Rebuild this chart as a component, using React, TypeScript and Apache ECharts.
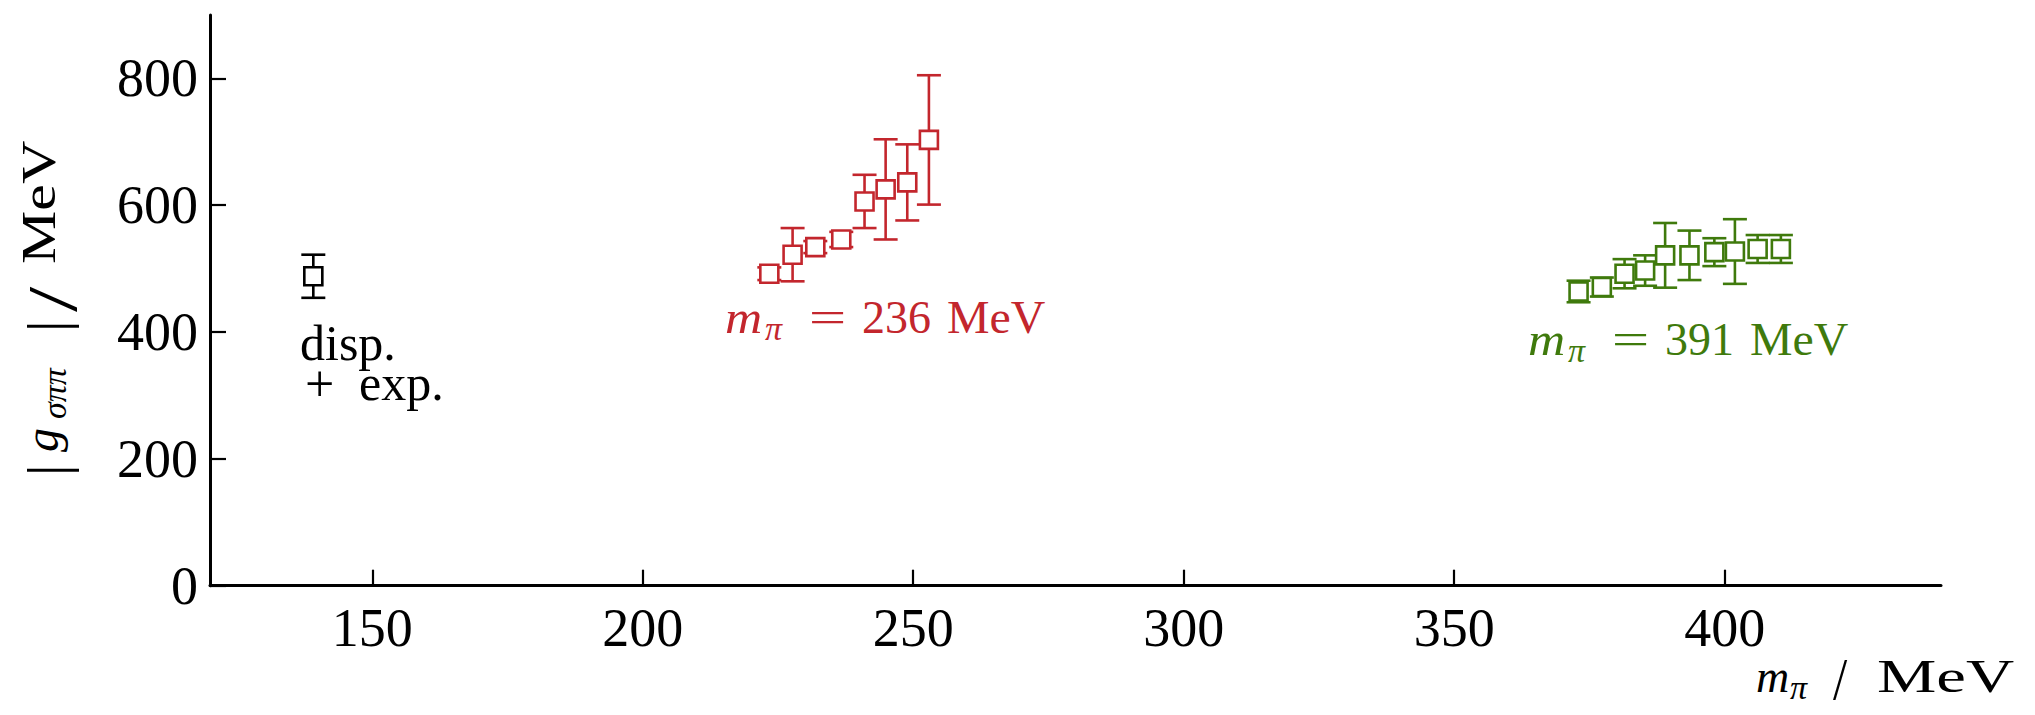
import React, { useEffect, useRef } from "react";
import * as echarts from "echarts";

const X_TICKS = [150, 200, 250, 300, 350, 400];
const Y_TICKS = [0, 200, 400, 600, 800];

const RED_X = [223.4, 227.7, 231.9, 236.7, 241.0, 244.9, 248.9, 252.9];
const RED_Y = [492, 522, 534, 546, 606, 625, 636, 703];
const RED_ERR = [10, 42, 9.5, 12, 42, 79, 60, 102];

const GREEN_X = [373.0, 377.3, 381.5, 385.3, 389.0, 393.5, 398.1, 401.9, 406.1, 410.4];
const GREEN_Y = [464, 471, 492, 497, 521, 521, 526, 527, 531, 531];
const GREEN_ERR = [17, 15, 23, 24, 51, 39, 22, 51, 22, 22];

const DISP_X = [139.1];
const DISP_Y = [488];
const DISP_ERR = [34];

const RED = "#C3262D";
const GREEN = "#3F7A0C";
const FONT = "'Liberation Serif', 'Times New Roman', serif";

function zip(xs: number[], ys: number[], es: number[]) {
  return xs.map((x, i) => [x, ys[i], es[i]]);
}

function errSeries(name: string, data: number[][], color: string) {
  return {
    type: "custom",
    name,
    data,
    clip: false,
    encode: { x: 0, y: 1 },
    renderItem: (_p: any, api: any) => {
      const x = api.value(0);
      const y = api.value(1);
      const e = api.value(2);
      const c = api.coord([x, y]);
      const t = api.coord([x, y + e]);
      const b = api.coord([x, y - e]);
      const half = 12;
      const s = 9;
      const ls = { stroke: color, lineWidth: 2.6, fill: null };
      return {
        type: "group",
        children: [
          { type: "line", shape: { x1: c[0], y1: t[1], x2: c[0], y2: b[1] }, style: ls },
          { type: "line", shape: { x1: c[0] - half, y1: t[1], x2: c[0] + half, y2: t[1] }, style: ls },
          { type: "line", shape: { x1: c[0] - half, y1: b[1], x2: c[0] + half, y2: b[1] }, style: ls },
          {
            type: "rect",
            shape: { x: c[0] - s, y: c[1] - s, width: 2 * s, height: 2 * s },
            style: { fill: "#fff", stroke: color, lineWidth: 2.6 },
          },
        ],
      };
    },
  };
}

type TOpt = { italic?: boolean; color?: string; align?: string; sx?: number; rot?: number; lh?: number };
function txt(x: number, baseline: number, text: string, size: number, o: TOpt = {}) {
  // baseline in screen coords; for rotated text, "baseline" is the screen x of the baseline
  const off = 0.34 * size;
  const rot = o.rot || 0;
  const style: any = {
    text,
    fontSize: size,
    fontFamily: FONT,
    fontStyle: o.italic ? "italic" : "normal",
    fill: o.color || "#000",
    align: o.align || "left",
    verticalAlign: "middle",
  };
  if (o.lh) style.lineHeight = o.lh;
  return {
    type: "text",
    x: rot ? baseline - off : x,
    y: rot ? x : baseline - off,
    rotation: rot,
    scaleX: o.sx || 1,
    silent: true,
    style,
  };
}

function massLabel(x0: number, base: number, value: string, color: string) {
  return [
    txt(x0, base, "m", 46, { italic: true, color, sx: 1.12 }),
    txt(x0 + 40, base + 7, "π", 34, { italic: true, color }),
    txt(x0 + 102.5, base, "=", 46, { color, align: "center", sx: 1.45 }),
    txt(x0 + 137, base, value, 46, { color }),
    txt(x0 + 222, base, "MeV", 46, { color, sx: 1.04 }),
  ];
}

export default function App() {
  const ref = useRef<HTMLDivElement>(null);
  useEffect(() => {
    if (!ref.current) return;
    const chart = echarts.init(ref.current, null, { renderer: "svg" });
    const R = Math.PI / 2;
    const option = {
      animation: false,
      backgroundColor: "#fff",
      grid: { left: 210, right: 94, top: 15, bottom: 129.3, containLabel: false },
      xAxis: {
        type: "value",
        min: 120,
        max: 440,
        splitLine: { show: false },
        axisLine: { show: true, onZero: false, lineStyle: { color: "#000", width: 3 } },
        axisTick: { show: true, inside: true, length: 16, customValues: X_TICKS, lineStyle: { color: "#000", width: 2.2 } },
        axisLabel: { customValues: X_TICKS, margin: 15, fontSize: 54, fontFamily: FONT, color: "#000" },
      },
      yAxis: {
        type: "value",
        min: 0,
        max: 900,
        splitLine: { show: false },
        axisLine: { show: true, onZero: false, lineStyle: { color: "#000", width: 3 } },
        axisTick: { show: true, inside: true, length: 16, customValues: Y_TICKS, lineStyle: { color: "#000", width: 2.2 } },
        axisLabel: { customValues: Y_TICKS, margin: 12, fontSize: 54, fontFamily: FONT, color: "#000", padding: [0, 0, 10, 0] },
      },
      series: [
        errSeries("disp", zip(DISP_X, DISP_Y, DISP_ERR), "#000"),
        errSeries("236", zip(RED_X, RED_Y, RED_ERR), RED),
        errSeries("391", zip(GREEN_X, GREEN_Y, GREEN_ERR), GREEN),
      ],
      graphic: [
        ...massLabel(725, 333, "236", RED),
        ...massLabel(1528, 355, "391", GREEN),
        {
          type: "text",
          x: 300,
          y: 323,
          silent: true,
          style: {
            text: "{a|disp.}\n{b|+}{c|exp.}",
            fontFamily: FONT,
            fill: "#000",
            align: "left",
            verticalAlign: "top",
            rich: {
              a: { fontSize: 50, lineHeight: 40, fontFamily: FONT, fill: "#000" },
              b: { fontSize: 52, lineHeight: 40, fontFamily: FONT, fill: "#000", width: 54, padding: [0, 0, 0, 5] },
              c: { fontSize: 50, lineHeight: 40, fontFamily: FONT, fill: "#000" },
            },
          },
        },
        // x-axis title
        txt(1756, 692, "m", 46, { italic: true }),
        txt(1790, 699, "π", 34, { italic: true }),
        txt(1833, 699, "/", 60, { sx: 0.85 }),
        txt(1877, 692, "MeV", 47, { sx: 1.42 }),
        // y-axis title (rotated)
        txt(476, 67, "|", 58, { rot: R }),
        txt(452, 58, "g", 48, { italic: true, rot: R }),
        txt(419, 66, "σππ", 34, { italic: true, rot: R }),
        txt(332, 67, "|", 58, { rot: R }),
        txt(312, 77, "/", 70, { rot: R, sx: 1.3 }),
        txt(264, 55, "MeV", 48, { rot: R, sx: 1.25 }),
      ],
    };
    chart.setOption(option as any);
    return () => chart.dispose();
  }, []);
  return (
    <div
      ref={ref}
      style={{ position: "fixed", left: 0, top: 0, width: 2035, height: 715, background: "#fff" }}
    />
  );
}
